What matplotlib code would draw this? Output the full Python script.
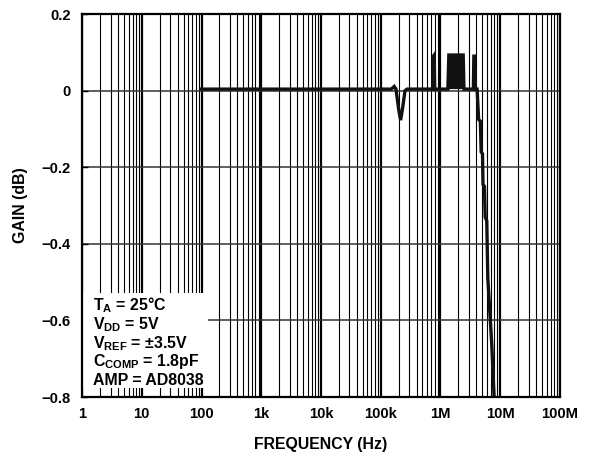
import numpy as np
import matplotlib.pyplot as plt
from matplotlib.patches import Rectangle
from matplotlib.ticker import FixedLocator, LogLocator, NullFormatter

plt.rcParams["font.family"] = ["Liberation Sans", "DejaVu Sans"]
plt.rcParams["font.weight"] = "bold"
plt.rcParams["mathtext.fontset"] = "custom"
plt.rcParams["mathtext.rm"] = "Liberation Sans:bold"
plt.rcParams["mathtext.it"] = "Liberation Sans:bold"
plt.rcParams["mathtext.bf"] = "Liberation Sans:bold"

# gain response
freq_hz = [100, 150e3, 168e3, 180e3, 200e3, 215e3, 230e3, 255e3, 275e3,
           745e3, 760e3, 785e3, 800e3,
           1.33e6, 1.38e6, 2.40e6, 2.47e6,
           3.55e6, 3.62e6, 3.75e6, 3.85e6,
           4.1e6, 4.35e6, 4.65e6, 4.8e6, 5.05e6, 5.15e6, 5.45e6, 5.6e6,
           5.95e6, 6.2e6, 7.2e6, 7.9e6, 8.3e6]
gain_db = [0.004, 0.004, 0.011, 0.004, -0.05, -0.077, -0.05, 0.0, 0.004,
           0.004, 0.09, 0.093, 0.004,
           0.004, 0.093, 0.093, 0.004,
           0.004, 0.09, 0.09, 0.004,
           0.004, -0.075, -0.08, -0.16, -0.165, -0.245, -0.25, -0.33,
           -0.34, -0.49, -0.66, -0.8, -0.9]
# oscillating region drawn as a solid block
block = slice(13, 17)

x_ticks = [1, 10, 100, 1e3, 1e4, 1e5, 1e6, 1e7, 1e8]
x_labels = ["1", "10", "100", "1k", "10k", "100k", "1M", "10M", "100M"]
y_ticks = [-0.8, -0.6, -0.4, -0.2, 0, 0.2]
y_labels = ["\u22120.8", "\u22120.6", "\u22120.4", "\u22120.2", "0", "0.2"]

conditions = [r"T$_{A}$ = 25°C", r"V$_{DD}$ = 5V", r"V$_{REF}$ = ±3.5V",
              r"C$_{COMP}$ = 1.8pF", "AMP = AD8038"]

fig = plt.figure(figsize=(5.93, 4.59), dpi=100)
ax = fig.add_axes([0.1383, 0.135, 0.806, 0.8344])

ax.set_xscale("log")
ax.set_xlim(1, 1e8)
ax.set_ylim(-0.8, 0.2)
ax.set_axisbelow(True)

ax.xaxis.set_major_locator(FixedLocator(x_ticks))
ax.set_xticklabels(x_labels)
ax.xaxis.set_minor_locator(LogLocator(base=10, subs=np.arange(2, 10)))
ax.xaxis.set_minor_formatter(NullFormatter())
ax.set_yticks(y_ticks)
ax.set_yticklabels(y_labels)

ax.grid(axis="x", which="major", color="black", lw=1.6)
ax.grid(axis="x", which="minor", color="black", lw=0.8)
ax.grid(axis="y", which="major", color="#333333", lw=1.1)

ax.tick_params(which="both", direction="in", labelsize=10.6, width=1.0)
ax.tick_params(axis="x", which="both", length=0, pad=7)
ax.tick_params(axis="y", length=4, pad=8)
for s in ax.spines.values():
    s.set_linewidth(1.6)

# white patch behind the conditions text
ax.add_patch(Rectangle((0.002, 0.0235), 0.262, 0.248, transform=ax.transAxes,
                       facecolor="white", edgecolor="none", zorder=1.5))
for i, line in enumerate(conditions):
    ax.text(0.023, 0.0313 + 0.0486 * (len(conditions) - 1 - i), line,
            transform=ax.transAxes, fontsize=11.4, fontweight="bold",
            va="baseline", ha="left", zorder=3)

f = np.array(freq_hz)
g = np.array(gain_db)
ax.plot(f, g, color="#111111", lw=2.4, solid_joinstyle="miter", zorder=2.5)
ax.fill(f[block], g[block], color="#111111", lw=0, zorder=2.5)

ax.set_xlabel("FREQUENCY (Hz)", fontsize=11.4, fontweight="bold", labelpad=12)
ax.set_ylabel("GAIN (dB)", fontsize=11.4, fontweight="bold", labelpad=10)

fig.savefig("out.png", dpi=100)
